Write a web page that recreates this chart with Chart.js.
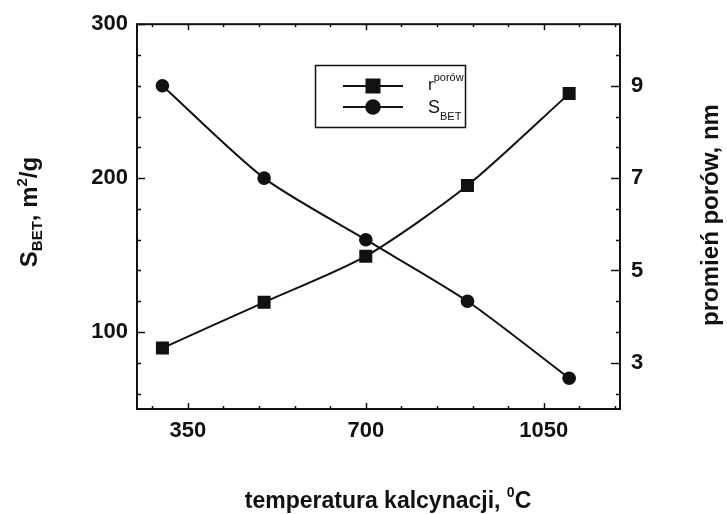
<!DOCTYPE html>
<html>
<head>
<meta charset="utf-8">
<script src="https://cdn.jsdelivr.net/npm/chart.js@4/dist/chart.umd.min.js"></script>
<style>
  html, body { margin: 0; padding: 0; background: #fff; }
  #wrap { width: 727px; height: 514px; position: relative; }
</style>
</head>
<body>
<div id="wrap"><canvas id="c" width="727" height="514"></canvas></div>
<script>
// Calcination temperature, °C
const temperatures = [300, 500, 700, 900, 1100];
// Specific surface area S_BET, m2/g (left axis)
const surfaceArea = [260, 200, 160, 120, 70];
// Pore radius, nm (right axis)
const poreRadius = [3.32, 4.31, 5.31, 6.84, 8.83];

// Labelled ticks on each axis
const xTickLabels = [350, 700, 1050];
const leftTickLabels = [100, 200, 300];
const rightTickLabels = [3, 5, 7, 9];

const INK = '#111';
const FONT = '"Liberation Sans", Arial, sans-serif';
const WEIGHT = 'bold';

// Evenly spaced tick positions (labelled + minor) between lo and hi
function tickRun(start, step, lo, hi) {
  const out = [];
  for (let k = -50; k <= 200; k++) {
    const v = start + k * step;
    if (v > lo + 1e-6 && v < hi - 1e-6) out.push(+v.toFixed(6));
  }
  return out;
}
const near = (arr, v) => arr.some(a => Math.abs(a - v) < 1e-6);

// Frame around the plot with ticks pointing inwards
const frameTicks = {
  id: 'frameTicks',
  afterDraw(chart) {
    const { ctx, chartArea: a, scales } = chart;
    ctx.save();
    ctx.strokeStyle = INK;
    ctx.lineWidth = 2;
    ctx.strokeRect(a.left, a.top, a.right - a.left, a.bottom - a.top);
    ctx.lineWidth = 1.5;
    const seg = (x1, y1, x2, y2) => { ctx.beginPath(); ctx.moveTo(x1, y1); ctx.lineTo(x2, y2); ctx.stroke(); };
    scales.x.ticks.forEach(t => {
      const px = Math.round(scales.x.getPixelForValue(t.value)) + 0.5;
      const len = near(xTickLabels, t.value) ? 6 : 3;
      seg(px, a.bottom, px, a.bottom - len);
      seg(px, a.top, px, a.top + len);
    });
    scales.y.ticks.forEach(t => {
      const py = Math.round(scales.y.getPixelForValue(t.value)) + 0.5;
      const len = near(leftTickLabels, t.value) ? 8 : 4;
      seg(a.left, py, a.left + len, py);
    });
    scales.y2.ticks.forEach(t => {
      const py = Math.round(scales.y2.getPixelForValue(t.value)) + 0.5;
      const len = near(rightTickLabels, t.value) ? 9 : 4;
      seg(a.right, py, a.right - len, py);
    });
    ctx.restore();
  }
};

// Draws a run of text pieces with sub/superscripts, centred on x
function richText(ctx, parts, x, y) {
  let w = 0;
  parts.forEach(p => { ctx.font = WEIGHT + ' ' + p.size + 'px ' + FONT; w += ctx.measureText(p.t).width; });
  let cx = x - w / 2;
  ctx.textAlign = 'left';
  ctx.textBaseline = 'alphabetic';
  parts.forEach(p => {
    ctx.font = WEIGHT + ' ' + p.size + 'px ' + FONT;
    ctx.fillText(p.t, cx, y + (p.dy || 0));
    cx += ctx.measureText(p.t).width;
  });
}

// Axis titles
const axisTitles = {
  id: 'axisTitles',
  afterDraw(chart) {
    const ctx = chart.ctx;
    ctx.save();
    ctx.fillStyle = INK;
    richText(ctx, [
      { t: 'temperatura kalcynacji, ', size: 23 },
      { t: '0', size: 14, dy: -11 },
      { t: 'C', size: 23 }
    ], 388, 508);

    ctx.save();
    ctx.translate(37, 212);
    ctx.rotate(-Math.PI / 2);
    richText(ctx, [
      { t: 'S', size: 24 },
      { t: 'BET', size: 15, dy: 5 },
      { t: ', m', size: 24 },
      { t: '2', size: 15, dy: -10 },
      { t: '/g', size: 24 }
    ], 0, 0);
    ctx.restore();

    ctx.save();
    ctx.translate(718, 215);
    ctx.rotate(-Math.PI / 2);
    richText(ctx, [{ t: 'promień porów, nm', size: 24 }], 0, 0);
    ctx.restore();
    ctx.restore();
  }
};

// Boxed legend with sample line + marker for each series
const boxLegend = {
  id: 'boxLegend',
  afterDraw(chart) {
    const ctx = chart.ctx;
    ctx.save();
    ctx.strokeStyle = INK;
    ctx.lineWidth = 1.5;
    ctx.strokeRect(315.5, 65.5, 150, 62);
    const rows = [
      { ds: chart.data.datasets[0], y: 86, parts: [{ t: 'r', size: 17, dy: 4 }, { t: 'porów', size: 11, dy: -5 }] },
      { ds: chart.data.datasets[1], y: 107, parts: [{ t: 'S', size: 18, dy: 6 }, { t: 'BET', size: 11, dy: 13 }] }
    ];
    rows.forEach(r => {
      ctx.strokeStyle = INK;
      ctx.lineWidth = 2;
      ctx.beginPath();
      ctx.moveTo(343, r.y);
      ctx.lineTo(403, r.y);
      ctx.stroke();
      ctx.fillStyle = INK;
      Chart.helpers.drawPoint(ctx, {
        pointStyle: r.ds.pointStyle,
        radius: r.ds.pointRadius,
        rotation: 0,
        borderWidth: 1
      }, 373, r.y);
      ctx.fill();
      let cx = 428;
      ctx.textAlign = 'left';
      ctx.textBaseline = 'alphabetic';
      r.parts.forEach(p => {
        ctx.font = p.size + 'px ' + FONT;
        ctx.fillText(p.t, cx, r.y + p.dy);
        cx += ctx.measureText(p.t).width;
      });
    });
    ctx.restore();
  }
};

const tickFont = { family: FONT, size: 22, weight: WEIGHT };

new Chart(document.getElementById('c'), {
  type: 'line',
  data: {
    datasets: [
      {
        label: 'r porów',
        data: temperatures.map((t, i) => ({ x: t, y: poreRadius[i] })),
        yAxisID: 'y2',
        borderColor: INK,
        backgroundColor: INK,
        borderWidth: 2,
        tension: 0.25,
        pointStyle: 'rect',
        pointRadius: 9.2,
        pointBackgroundColor: INK,
        pointBorderColor: INK,
        pointBorderWidth: 0
      },
      {
        label: 'S BET',
        data: temperatures.map((t, i) => ({ x: t, y: surfaceArea[i] })),
        yAxisID: 'y',
        borderColor: INK,
        backgroundColor: INK,
        borderWidth: 2,
        tension: 0.25,
        pointStyle: 'circle',
        pointRadius: 6.8,
        pointBackgroundColor: INK,
        pointBorderColor: INK,
        pointBorderWidth: 0
      }
    ]
  },
  options: {
    responsive: false,
    animation: false,
    devicePixelRatio: 1,
    layout: { padding: { top: 20, left: 0, right: 0, bottom: 0 } },
    plugins: { legend: { display: false }, tooltip: { enabled: false } },
    scales: {
      x: {
        type: 'linear',
        min: 250,
        max: 1200,
        afterBuildTicks: s => { s.ticks = tickRun(350, 70, 250, 1200).map(v => ({ value: v })); },
        afterFit: s => { s.height = 105; },
        grid: { display: false, drawTicks: false },
        border: { display: false },
        ticks: {
          autoSkip: false, maxRotation: 0, padding: 9, color: INK, font: tickFont,
          callback: v => near(xTickLabels, v) ? String(v) : ''
        }
      },
      y: {
        position: 'left',
        min: 50,
        max: 300,
        afterBuildTicks: s => { s.ticks = tickRun(100, 20, 50, 300.001).map(v => ({ value: v })); },
        afterFit: s => { s.width = 137; },
        grid: { display: false, drawTicks: false },
        border: { display: false },
        ticks: {
          autoSkip: false, padding: 9, color: INK, font: tickFont,
          callback: v => near(leftTickLabels, v) ? String(Math.round(v)) : ''
        }
      },
      y2: {
        position: 'right',
        min: 2,
        max: 2 + 25 / 3,
        afterBuildTicks: s => { s.ticks = tickRun(3, 2 / 3, 2, 2 + 25 / 3).map(v => ({ value: v })); },
        afterFit: s => { s.width = 107; },
        grid: { display: false, drawTicks: false },
        border: { display: false },
        ticks: {
          autoSkip: false, padding: 11, color: INK, font: tickFont,
          callback: v => near(rightTickLabels, v) ? String(Math.round(v)) : ''
        }
      }
    }
  },
  plugins: [frameTicks, axisTitles, boxLegend]
});
</script>
</body>
</html>
